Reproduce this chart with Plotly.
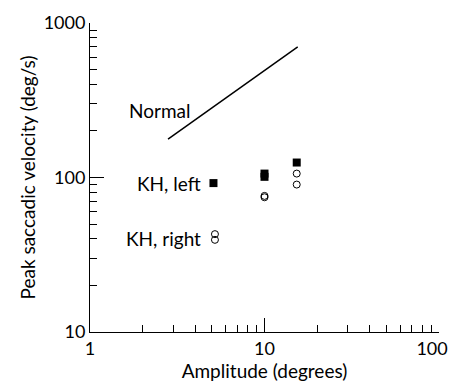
import plotly.graph_objects as go

# Data
normal_x = [2.8, 15.5]
normal_y = [177, 700]

left_x = [5.1, 10.0, 10.0, 15.3]
left_y = [92, 101, 106, 125]

right_x = [5.2, 5.2, 10.0, 10.0, 15.3, 15.3]
right_y = [39.5, 43, 74.5, 76, 90, 106]

x_major = [1, 10, 100]
x_labels = ["1", "10", "100\u00a0\u00a0\u00a0"]
y_major = [10, 100, 1000]
y_labels = ["10", "100", "1000"]
x_minor = [m * d for d in (1, 10) for m in range(2, 10)]
y_minor = [m * d for d in (10, 100) for m in range(2, 10)]

FONT = "Lato"
FS = 18

fig = go.Figure()
fig.add_trace(go.Scatter(x=normal_x, y=normal_y, mode="lines",
                         line=dict(color="black", width=1.5), showlegend=False))
fig.add_trace(go.Scatter(x=left_x, y=left_y, mode="markers",
                         marker=dict(symbol="square", size=8, color="black"),
                         showlegend=False))
fig.add_trace(go.Scatter(x=right_x, y=right_y, mode="markers",
                         marker=dict(symbol="circle-open", size=7, color="black",
                                     line=dict(width=1)),
                         showlegend=False))

ann = [("Normal", 0.293, 0.718), ("KH, left", 0.325, 0.482), ("KH, right", 0.325, 0.304)]
for t, xp, yp in ann:
    fig.add_annotation(text=t, xref="paper", yref="paper", x=xp, y=yp,
                       xanchor="right", yanchor="middle", showarrow=False,
                       font=dict(family=FONT, size=19, color="black"))

axis_common = dict(showline=True, linecolor="black", linewidth=1,
                   ticks="inside", ticklen=14, tickwidth=1, tickcolor="black",
                   showgrid=False, zeroline=False, automargin=False,
                   ticklabeloverflow="allow",
                   tickfont=dict(family=FONT, size=FS, color="black"),
                   title_font=dict(family=FONT, size=19, color="black"),
                   mirror=False)

fig.update_xaxes(type="log", range=[0, 2], tickvals=x_major, ticktext=x_labels,
                 minor=dict(tickvals=x_minor, ticks="inside", ticklen=7, tickcolor="black",
                            tickwidth=1, showgrid=False),
                 title_text="Amplitude (degrees)", title_standoff=2, **axis_common)
fig.update_yaxes(type="log", range=[1, 3], tickvals=y_major, ticktext=y_labels,
                 minor=dict(tickvals=y_minor, ticks="inside", ticklen=7, tickcolor="black",
                            tickwidth=1, showgrid=False),
                 title_text="Peak saccadic velocity (deg/s)", title_standoff=2, **axis_common)

# page has an 8px body margin, so the figure is sized to fit the 457x385 window
fig.update_layout(width=449, height=377, plot_bgcolor="white", paper_bgcolor="white",
                  margin=dict(l=82, r=18, t=15, b=53), showlegend=False)

fig.write_html("out.html")
